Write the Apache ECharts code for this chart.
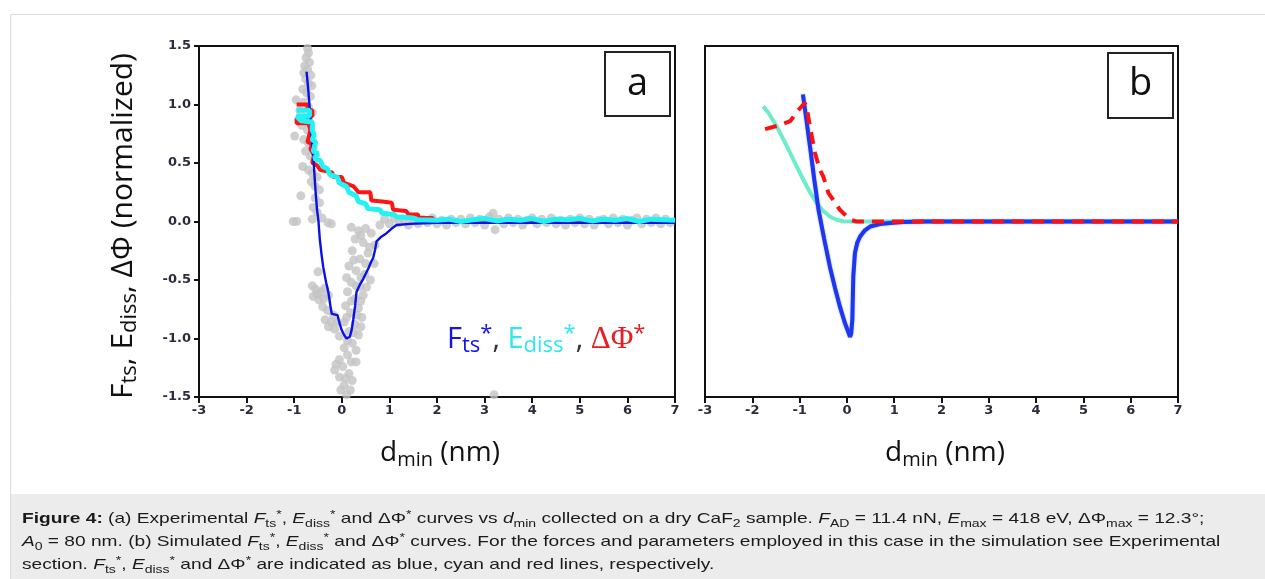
<!DOCTYPE html>
<html><head><meta charset="utf-8">
<script src="https://cdn.jsdelivr.net/npm/echarts@6/dist/echarts.min.js"></script>
<style>html,body{margin:0;padding:0;background:#fff}#c{width:1265px;height:579px}</style>
</head><body><div id="c"></div>
<script>
// ---------- data ----------
const xMin = -3, xMax = 7, yMin = -1.5, yMax = 1.5;

// panel a: raw experimental points (grey)
const grayPoints = [
 [-0.72,1.48],[-0.70,1.44],[-0.75,1.40],[-0.68,1.36],[-0.78,1.33],[-0.72,1.30],[-0.80,1.27],[-0.65,1.25],
 [-0.76,1.22],[-0.70,1.18],[-0.63,1.16],[-0.82,1.13],[-0.74,1.10],[-0.66,1.07],[-0.96,1.04],[-0.80,1.02],
 [-0.70,0.98],[-0.88,0.95],[-0.62,0.93],[-0.78,0.89],[-0.68,0.85],[-0.84,0.82],[-0.72,0.78],[-0.99,0.73],
 [-0.80,0.70],[-0.70,0.67],[-0.60,0.64],[-0.76,0.60],[-0.66,0.56],[-0.58,0.53],[-0.82,0.47],[-0.70,0.44],
 [-0.62,0.41],[-0.52,0.38],[-0.64,0.34],[-0.56,0.30],[-0.47,0.27],[-0.86,0.22],[-0.56,0.20],[-0.47,0.16],
 [-0.60,0.12],[-0.52,0.08],[-0.95,0.00],[-0.62,0.02],[-0.42,0.03],
 [-1.02,0.00],[-0.29,-0.01],[-0.22,-0.02],[-0.50,-0.43],[-0.62,-0.55],[-0.55,-0.58],[-0.45,-0.60],[-0.36,-0.57],
 [-0.28,-0.63],[-0.60,-0.64],[-0.48,-0.67],[-0.40,-0.73],[-0.30,-0.76],[-0.35,-0.84],[-0.22,-0.86],[-0.15,-0.92],
 [-0.28,-0.90],[-0.52,-0.62],[-0.38,-0.66],[-0.18,-0.80],[-0.10,-0.86],
 [0.20,-0.05],[0.35,-0.08],[0.50,-0.06],[0.62,-0.10],[0.28,-0.15],[0.45,-0.18],[0.70,-0.20],[0.22,-0.25],
 [0.55,-0.27],[0.38,-0.32],[0.68,-0.36],[0.15,-0.38],[0.30,-0.42],[0.48,-0.45],[0.60,-0.50],[0.20,-0.52],
 [0.38,-0.56],[0.12,-0.60],[0.45,-0.63],[0.28,-0.66],[0.08,-0.72],[0.35,-0.74],[0.18,-0.78],[0.42,-0.82],
 [0.05,-0.86],[0.28,-0.88],[0.15,-0.94],[-0.05,-0.98],[0.35,-0.97],[0.22,-1.04],[0.05,-1.08],[0.30,-1.10],
 [0.12,-1.14],[-0.05,-1.18],[0.20,-1.20],[0.02,-1.24],[-0.15,-1.27],[0.15,-1.30],[-0.05,-1.33],[0.22,-1.36],
 [0.05,-1.40],[0.18,-1.44],[0.10,-1.48],[3.20,-1.48],
 [0.40,-0.12],[0.58,-0.22],[0.50,-0.36],[0.25,-0.33],[0.40,-0.48],[0.10,-0.48],[0.30,-0.55],[0.52,-0.56],
 [0.20,-0.68],[0.40,-0.68],[0.10,-0.82],[0.32,-0.80],[0.25,-0.95],[0.40,-0.90],[0.12,-1.02],[0.30,-1.20],
 [-0.12,-1.22],[0.08,-1.34],[-0.02,-1.44],
 [0.80,-0.03],[0.90,0.02],[1.00,-0.02],[1.10,0.03],[1.20,-0.01],[1.30,0.02],[1.40,-0.03],[1.50,0.01],
 [1.60,-0.02],[1.70,0.02],[1.80,-0.01],[1.90,0.03],[2.00,-0.02],[2.10,0.01],[2.20,-0.03],[2.30,0.02],
 [2.40,-0.01],[2.50,0.02],[2.60,-0.02],[2.70,0.03],[2.80,-0.01],[2.90,0.02],[3.00,-0.03],[3.10,0.04],
 [3.18,0.07],[3.22,-0.07],[3.30,0.02],[3.40,-0.02],[3.50,0.03],[3.60,-0.01],[3.70,0.02],[3.80,-0.03],
 [3.90,0.01],[4.00,0.03],[4.10,-0.02],[4.20,0.02],[4.30,-0.01],[4.40,0.03],[4.50,-0.02],[4.60,0.01],
 [4.70,-0.03],[4.80,0.02],[4.90,-0.01],[5.00,0.03],[5.10,-0.02],[5.20,0.02],[5.30,-0.03],[5.40,0.01],
 [5.50,0.02],[5.60,-0.02],[5.70,0.03],[5.80,-0.01],[5.90,0.02],[6.00,-0.03],[6.10,0.01],[6.20,0.03],
 [6.30,-0.02],[6.40,0.02],[6.50,-0.01],[6.60,0.03],[6.70,-0.02],[6.80,0.02],[6.90,-0.01]
];

// panel a: experimental Fts* (blue)
const blueExp = [
 [-0.74,1.28],[-0.71,1.15],[-0.68,1.00],[-0.64,0.75],[-0.59,0.50],[-0.55,0.25],[-0.52,0.10],[-0.49,0.00],
 [-0.46,-0.16],[-0.42,-0.30],[-0.39,-0.39],[-0.33,-0.52],[-0.28,-0.61],[-0.24,-0.72],[-0.21,-0.79],[-0.09,-0.80],
 [-0.04,-0.88],[0.00,-0.93],[0.05,-0.97],[0.10,-1.00],[0.17,-0.985],[0.21,-0.92],[0.24,-0.84],[0.28,-0.72],
 [0.31,-0.60],[0.38,-0.54],[0.45,-0.49],[0.56,-0.40],[0.61,-0.35],[0.66,-0.31],[0.70,-0.24],[0.73,-0.17],
 [0.83,-0.13],[0.94,-0.10],[1.05,-0.06],[1.15,-0.03],[1.43,-0.02],[1.71,-0.015],[2.00,-0.012],[3.00,-0.012],
 [4.00,-0.012],[5.00,-0.012],[6.00,-0.012],[7.00,-0.012]
];

// panel a: experimental ΔΦ* (red)
const redExp = [
 [-0.95,1.00],[-0.72,1.00],[-0.72,0.96],[-0.62,0.95],[-0.62,0.90],[-0.95,0.88],[-0.95,0.84],[-0.70,0.84],
 [-0.66,0.78],[-0.72,0.68],[-0.62,0.66],[-0.66,0.62],[-0.58,0.57],[-0.62,0.50],[-0.52,0.48],[-0.45,0.44],
 [-0.20,0.42],[-0.18,0.38],[0.00,0.38],[0.05,0.33],[0.25,0.30],[0.35,0.25],[0.60,0.25],[0.62,0.18],
 [0.85,0.17],[1.05,0.16],[1.08,0.10],[1.35,0.09],[1.40,0.06],[1.60,0.06],[1.62,0.03],[1.90,0.03],
 [1.95,0.01],[2.30,0.01],[2.50,0.00],[7.00,0.00]
];

// panel a: experimental Ediss* (cyan)
const cyanExp = [
 [-0.95,0.95],[-0.68,0.95],[-0.68,0.90],[-0.95,0.90],[-0.85,0.86],[-0.62,0.85],[-0.62,0.78],[-0.58,0.74],
 [-0.62,0.70],[-0.55,0.68],[-0.60,0.60],[-0.50,0.58],[-0.58,0.54],[-0.45,0.52],[-0.40,0.47],[-0.30,0.45],
 [-0.25,0.40],[-0.10,0.38],[-0.05,0.33],[0.10,0.30],[0.15,0.25],[0.30,0.22],[0.35,0.17],[0.50,0.15],
 [0.55,0.11],[0.80,0.10],[0.85,0.07],[1.10,0.06],[1.15,0.04],[1.50,0.03],[1.60,0.015],[2.00,0.01],
 [2.25,0.02],[2.50,0.00],[2.75,0.015],[3.00,0.025],[3.25,0.005],[3.50,0.02],[3.75,0.01],[4.00,0.025],
 [4.25,0.00],[4.50,0.02],[4.75,0.015],[5.00,0.025],[5.25,0.005],[5.50,0.02],[5.75,0.01],[6.00,0.025],
 [6.25,0.00],[6.50,0.02],[6.75,0.015],[7.00,0.01]
];

// panel b: simulated curves
const cyanSim = [
 [-1.77,0.985],[-1.66,0.93],[-1.57,0.87],[-1.48,0.81],[-1.34,0.70],[-1.20,0.586],[-1.06,0.47],[-0.92,0.357],
 [-0.78,0.25],[-0.64,0.158],[-0.50,0.09],[-0.36,0.043],[-0.22,0.015],[-0.08,0.002],[0.10,0.00],[0.50,0.00],
 [1.00,0.00],[7.00,0.00]
];
const redSim = [
 [-1.73,0.79],[-1.45,0.82],[-1.20,0.857],[-1.05,0.94],[-0.89,1.015],[-0.84,0.95],[-0.78,0.81],[-0.675,0.586],
 [-0.57,0.44],[-0.50,0.386],[-0.39,0.243],[-0.29,0.186],[-0.15,0.10],[0.00,0.043],[0.10,0.012],[0.20,0.00],
 [7.00,0.00]
];
const blueSim = [
 [-0.93,1.086],[-0.85,0.85],[-0.77,0.61],[-0.69,0.36],[-0.60,0.10],[-0.48,-0.15],[-0.36,-0.386],[-0.25,-0.57],
 [-0.146,-0.73],[-0.04,-0.87],[0.066,-0.985],[0.09,-0.96],[0.115,-0.84],[0.135,-0.47],[0.17,-0.27],[0.22,-0.18],
 [0.28,-0.128],[0.38,-0.075],[0.49,-0.043],[0.70,-0.022],[0.91,-0.012],[1.20,-0.004],[1.60,0.00],[7.00,0.00]
];

const captionLines = [
 '{b|Figure 4:} (a) Experimental {i|F}{sub|ts}{sup|*}, {i|E}{sub|diss}{sup|*} and ΔΦ{sup|*} curves vs {i|d}{sub|min} collected on a dry CaF{sub|2} sample. {i|F}{sub|AD} = 11.4 nN, {i|E}{sub|max} = 418 eV, ΔΦ{sub|max} = 12.3°;',
 '{i|A}{sub|0} = 80 nm. (b) Simulated {i|F}{sub|ts}{sup|*}, {i|E}{sub|diss}{sup|*} and ΔΦ{sup|*} curves. For the forces and parameters employed in this case in the simulation see Experimental',
 'section. {i|F}{sub|ts}{sup|*}, {i|E}{sub|diss}{sup|*} and ΔΦ{sup|*} are indicated as blue, cyan and red lines, respectively.'
];

// ---------- chart ----------
const chart = echarts.init(document.getElementById('c'), null, {renderer: 'canvas'});

const tickFont = {fontFamily: 'DejaVu Sans', fontWeight: 'bold', fontSize: 13, color: '#2b2b3b'};
function xAxisCfg(i) {
  return {
    gridIndex: i, type: 'value', min: xMin, max: xMax, interval: 1,
    axisLine: {show: true, onZero: false, lineStyle: {color: '#111', width: 2}},
    axisTick: {show: true, length: 6, lineStyle: {color: '#111', width: 2}},
    axisLabel: Object.assign({margin: 7}, tickFont),
    splitLine: {show: false}
  };
}
const capFont = 'Liberation Sans';
const capCol = '#1a1a1a';
const capRich = {
  n: {fontFamily: capFont, fontSize: 15, fill: capCol, lineHeight: 20},
  b: {fontFamily: capFont, fontSize: 15, fill: capCol, fontWeight: 'bold', lineHeight: 20},
  i: {fontFamily: capFont, fontSize: 15, fill: capCol, fontStyle: 'italic', lineHeight: 20},
  sub: {fontFamily: capFont, fontSize: 11, fill: capCol, lineHeight: 9, verticalAlign: 'bottom'},
  sup: {fontFamily: capFont, fontSize: 11, fill: capCol, lineHeight: 9, verticalAlign: 'top'}
};
const titleFont = 'Open Sans';
const titleRich = {
  m: {fontFamily: titleFont, fontSize: 28, fill: '#111', lineHeight: 34},
  s: {fontFamily: titleFont, fontSize: 20, fill: '#111', lineHeight: 14, verticalAlign: 'bottom'}
};
const yTitleRich = {
  m: {fontFamily: titleFont, fontSize: 30, fill: '#111', lineHeight: 36},
  s: {fontFamily: titleFont, fontSize: 22, fill: '#111', lineHeight: 15, verticalAlign: 'bottom'}
};
const annRich = {
  fb: {fontFamily: titleFont, fontSize: 29, fill: '#1414e6', lineHeight: 34},
  fbs: {fontFamily: titleFont, fontSize: 22, fill: '#1414e6', lineHeight: 14, verticalAlign: 'bottom'},
  fbt: {fontFamily: titleFont, fontSize: 22, fill: '#1414e6', lineHeight: 16, verticalAlign: 'top'},
  cm: {fontFamily: titleFont, fontSize: 29, fill: '#333', lineHeight: 34},
  ec: {fontFamily: titleFont, fontSize: 29, fill: '#2ee8ee', lineHeight: 34},
  ecs: {fontFamily: titleFont, fontSize: 22, fill: '#2ee8ee', lineHeight: 14, verticalAlign: 'bottom'},
  ect: {fontFamily: titleFont, fontSize: 22, fill: '#2ee8ee', lineHeight: 16, verticalAlign: 'top'},
  ph: {fontFamily: 'Liberation Serif', fontSize: 31, fill: '#e62020', lineHeight: 34},
  pht: {fontFamily: titleFont, fontSize: 22, fill: '#e62020', lineHeight: 16, verticalAlign: 'top'}
};

const graphic = [
  {type: 'rect', z: -10, silent: true, shape: {x: 10.5, y: 14.5, width: 1270, height: 580},
   style: {fill: '#fff', stroke: '#dcdcdc', lineWidth: 1}},
  {type: 'rect', z: -9, silent: true, shape: {x: 11, y: 494, width: 1260, height: 90},
   style: {fill: '#ececec'}},
  {type: 'rect', z: 5, shape: {x: 605, y: 52, width: 65, height: 64},
   style: {fill: '#fff', stroke: '#222', lineWidth: 2}},
  {type: 'text', z: 6, x: 637.5, y: 84, style: {text: 'a', fontFamily: titleFont, fontSize: 38, fill: '#111', align: 'center', verticalAlign: 'middle'}},
  {type: 'rect', z: 5, shape: {x: 1108, y: 53, width: 65, height: 65},
   style: {fill: '#fff', stroke: '#222', lineWidth: 2}},
  {type: 'text', z: 6, x: 1140.5, y: 84, style: {text: 'b', fontFamily: titleFont, fontSize: 38, fill: '#111', align: 'center', verticalAlign: 'middle'}},
  {type: 'text', z: 6, x: 440, y: 453, style: {text: '{m|d}{s|min}{m| (nm)}', rich: titleRich, align: 'center', verticalAlign: 'middle'}},
  {type: 'text', z: 6, x: 945, y: 453, style: {text: '{m|d}{s|min}{m| (nm)}', rich: titleRich, align: 'center', verticalAlign: 'middle'}},
  {type: 'text', z: 6, x: 123, y: 226, rotation: Math.PI / 2,
   style: {text: '{m|F}{s|ts}{m|, E}{s|diss}{m|, ΔΦ (normalized)}', rich: yTitleRich, align: 'center', verticalAlign: 'middle'}},
  {type: 'text', z: 6, x: 447, y: 340,
   style: {text: '{fb|F}{fbs|ts}{fbt|*}{cm|, }{ec|E}{ecs|diss}{ect|*}{cm|, }{ph|ΔΦ}{pht|*}', rich: annRich, align: 'left', verticalAlign: 'middle'}}
];
captionLines.forEach((t, k) => {
  graphic.push({type: 'text', z: 6, x: 22, y: 519 + k * 23, scaleX: 1.275,
    style: {text: t, rich: capRich, fontFamily: capFont, fontSize: 15, fill: capCol, align: 'left', verticalAlign: 'middle'}});
});

const option = {
  animation: false,
  backgroundColor: '#fff',
  grid: [
    {left: 199, top: 46, width: 476, height: 351, show: true, borderColor: '#111', borderWidth: 2, backgroundColor: 'rgba(0,0,0,0)'},
    {left: 705, top: 46, width: 473, height: 351, show: true, borderColor: '#111', borderWidth: 2, backgroundColor: 'rgba(0,0,0,0)'}
  ],
  xAxis: [xAxisCfg(0), xAxisCfg(1)],
  yAxis: [
    {gridIndex: 0, type: 'value', min: yMin, max: yMax, interval: 0.5,
     axisLine: {show: true, onZero: false, lineStyle: {color: '#111', width: 2}},
     axisTick: {show: true, length: 5, lineStyle: {color: '#111', width: 2}},
     axisLabel: Object.assign({margin: 8, formatter: v => v.toFixed(1)}, tickFont),
     splitLine: {show: false}},
    {gridIndex: 1, type: 'value', min: yMin, max: yMax, interval: 0.5,
     axisLine: {show: true, onZero: false, lineStyle: {color: '#111', width: 2}},
     axisTick: {show: false}, axisLabel: {show: false}, splitLine: {show: false}}
  ],
  series: [
    {type: 'scatter', xAxisIndex: 0, yAxisIndex: 0, data: grayPoints, symbolSize: 9,
     itemStyle: {color: '#c3c3c3'}, z: 1, silent: true},
    {type: 'line', xAxisIndex: 0, yAxisIndex: 0, data: redExp, showSymbol: false, symbol: 'none',
     lineStyle: {color: '#ff1414', width: 4}, z: 2, silent: true},
    {type: 'line', xAxisIndex: 0, yAxisIndex: 0, data: blueExp, showSymbol: false, symbol: 'none',
     lineStyle: {color: '#0a10e8', width: 2.4}, z: 3, silent: true},
    {type: 'line', xAxisIndex: 0, yAxisIndex: 0, data: cyanExp, showSymbol: false, symbol: 'none',
     lineStyle: {color: '#22f2f2', width: 5}, z: 4, silent: true},
    {type: 'line', xAxisIndex: 1, yAxisIndex: 1, data: cyanSim, showSymbol: false, symbol: 'none',
     lineStyle: {color: '#6eeccc', width: 4}, z: 2, silent: true},
    {type: 'line', xAxisIndex: 1, yAxisIndex: 1, data: blueSim, showSymbol: false, symbol: 'none',
     lineStyle: {color: '#2036ee', width: 4, shadowColor: 'rgba(90,130,255,0.7)', shadowBlur: 2}, z: 3, silent: true},
    {type: 'line', xAxisIndex: 1, yAxisIndex: 1, data: redSim, showSymbol: false, symbol: 'none',
     lineStyle: {color: '#ff1010', width: 4, type: [12, 8]}, z: 4, silent: true}
  ],
  graphic: graphic
};
chart.setOption(option);
</script></body></html>
